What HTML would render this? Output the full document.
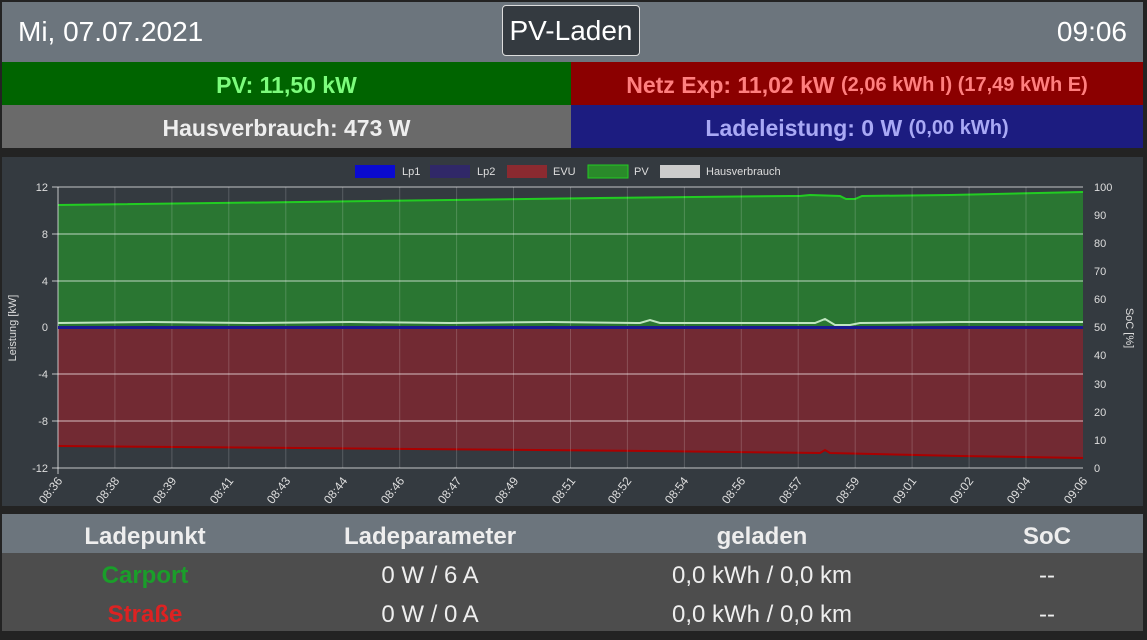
<!DOCTYPE html>
<html><head><meta charset="utf-8"><style>
body{margin:0;width:1147px;height:640px;background:#232323;font-family:"Liberation Sans",sans-serif;overflow:hidden;position:relative}
.a{position:absolute}
.t{display:flex;align-items:center;justify-content:center;font-weight:bold;font-size:23px;padding-top:4px;box-sizing:border-box}
</style></head><body>
<div class="a" style="left:2px;top:2px;width:1141px;height:60px;background:#6c757d"></div>
<div class="a" style="left:18px;top:16px;font-size:28px;color:#fff">Mi, 07.07.2021</div>
<div class="a" style="left:502px;top:5px;width:138px;height:51px;background:#343a40;border:1px solid #ddd;border-radius:4px;box-sizing:border-box;color:#fff;font-size:28px;display:flex;align-items:center;justify-content:center">PV-Laden</div>
<div class="a" style="right:20px;top:16px;font-size:28px;color:#fff">09:06</div>
<div class="a t" style="left:2px;top:62px;width:569px;height:43px;background:#006400;color:#7cfc7c">PV: 11,50 kW</div>
<div class="a t" style="left:571px;top:62px;width:572px;height:43px;background:#8b0000;color:#ff7f7f">Netz Exp: 11,02 kW&nbsp;<span style="font-size:20px">(2,06 kWh I) (17,49 kWh E)</span></div>
<div class="a t" style="left:2px;top:105px;width:569px;height:43px;background:#6a6a6a;color:#eee">Hausverbrauch: 473 W</div>
<div class="a t" style="left:571px;top:105px;width:572px;height:43px;background:#1c1c80;color:#a9a9f5">Ladeleistung: 0 W&nbsp;<span style="font-size:20px">(0,00 kWh)</span></div>
<svg class="a" style="left:2px;top:157px" width="1141" height="349">
<rect width="1141" height="349" fill="#343a40"/>
<g transform="translate(-2,-157)" font-family="Liberation Sans" font-size="11" fill="#ddd">
<rect x="355" y="165" width="40" height="13" fill="#0a0ad0"/><text x="402" y="175">Lp1</text>
<rect x="430" y="165" width="40" height="13" fill="#302868"/><text x="477" y="175">Lp2</text>
<rect x="507" y="165" width="40" height="13" fill="#8b2a30"/><text x="553" y="175">EVU</text>
<rect x="588" y="165" width="40" height="13" fill="#2a8a2a" stroke="#2c2" /><text x="634" y="175">PV</text>
<rect x="660" y="165" width="40" height="13" fill="#ccc"/><text x="706" y="175">Hausverbrauch</text>
<path d="M58,205 L300,202 L600,198 L790,196 L800,196 L810,195 L840,196 L846,199 L855,199 L862,196 L950,195 L1083,192 L1083,327 L58,327Z" fill="#2a7632"/>
<path d="M58,205 L300,202 L600,198 L790,196 L800,196 L810,195 L840,196 L846,199 L855,199 L862,196 L950,195 L1083,192" fill="none" stroke="#2c2" stroke-width="2"/>
<path d="M58,328 L1083,328 L1083,458 L960,456 L830,453 L825,450 L820,453 L650,451 L300,448 L58,446Z" fill="#722a33"/>
<path d="M1083,458 L960,456 L830,453 L825,450 L820,453 L650,451 L300,448 L58,446" fill="none" stroke="#a00" stroke-width="2"/>
<g stroke="rgba(255,255,255,0.18)" stroke-width="1">
<line x1="114.9" y1="187" x2="114.9" y2="468"/><line x1="171.9" y1="187" x2="171.9" y2="468"/><line x1="228.8" y1="187" x2="228.8" y2="468"/><line x1="285.8" y1="187" x2="285.8" y2="468"/><line x1="342.7" y1="187" x2="342.7" y2="468"/><line x1="399.7" y1="187" x2="399.7" y2="468"/><line x1="456.6" y1="187" x2="456.6" y2="468"/><line x1="513.5" y1="187" x2="513.5" y2="468"/><line x1="570.5" y1="187" x2="570.5" y2="468"/><line x1="627.4" y1="187" x2="627.4" y2="468"/><line x1="684.4" y1="187" x2="684.4" y2="468"/><line x1="741.3" y1="187" x2="741.3" y2="468"/><line x1="798.2" y1="187" x2="798.2" y2="468"/><line x1="855.2" y1="187" x2="855.2" y2="468"/><line x1="912.1" y1="187" x2="912.1" y2="468"/><line x1="969.1" y1="187" x2="969.1" y2="468"/><line x1="1026" y1="187" x2="1026" y2="468"/>
</g>
<g stroke="rgba(255,255,255,0.7)" stroke-width="1">
<line x1="52" y1="187" x2="1083" y2="187"/><line x1="52" y1="234" x2="1083" y2="234"/><line x1="52" y1="281" x2="1083" y2="281"/><line x1="52" y1="374" x2="1083" y2="374"/><line x1="52" y1="421" x2="1083" y2="421"/><line x1="52" y1="468" x2="1083" y2="468"/>
<line x1="58" y1="187" x2="58" y2="474"/>
</g>
<rect x="58" y="326" width="1025" height="3" fill="#1a1a90"/>
<path d="M58,323 L150,322 L250,323 L350,322 L450,323 L550,322 L640,323 L650,320 L660,323 L760,323 L815,323 L825,319 L835,325 L850,325 L860,323 L960,322 L1083,322" fill="none" stroke="#bfe6bf" stroke-width="2"/>
<g text-anchor="end" font-size="11"><text x="48" y="191">12</text><text x="48" y="238">8</text><text x="48" y="285">4</text><text x="48" y="331">0</text><text x="48" y="378">-4</text><text x="48" y="425">-8</text><text x="48" y="472">-12</text></g>
<g font-size="11"><text x="1094" y="191">100</text><text x="1094" y="219">90</text><text x="1094" y="247">80</text><text x="1094" y="275">70</text><text x="1094" y="303">60</text><text x="1094" y="331">50</text><text x="1094" y="359">40</text><text x="1094" y="388">30</text><text x="1094" y="416">20</text><text x="1094" y="444">10</text><text x="1094" y="472">0</text></g>
<text transform="translate(16,328) rotate(-90)" text-anchor="middle" font-size="11">Leistung [kW]</text>
<text transform="translate(1126,328) rotate(90)" text-anchor="middle" font-size="11">SoC [%]</text>
<g font-size="12" text-anchor="end">
<text transform="translate(63,481) rotate(-52)">08:36</text><text transform="translate(120,481) rotate(-52)">08:38</text><text transform="translate(177,481) rotate(-52)">08:39</text><text transform="translate(234,481) rotate(-52)">08:41</text><text transform="translate(291,481) rotate(-52)">08:43</text><text transform="translate(348,481) rotate(-52)">08:44</text><text transform="translate(405,481) rotate(-52)">08:46</text><text transform="translate(462,481) rotate(-52)">08:47</text><text transform="translate(519,481) rotate(-52)">08:49</text><text transform="translate(576,481) rotate(-52)">08:51</text><text transform="translate(632,481) rotate(-52)">08:52</text><text transform="translate(689,481) rotate(-52)">08:54</text><text transform="translate(746,481) rotate(-52)">08:56</text><text transform="translate(803,481) rotate(-52)">08:57</text><text transform="translate(860,481) rotate(-52)">08:59</text><text transform="translate(917,481) rotate(-52)">09:01</text><text transform="translate(974,481) rotate(-52)">09:02</text><text transform="translate(1031,481) rotate(-52)">09:04</text><text transform="translate(1088,481) rotate(-52)">09:06</text>
</g>
</g></svg>
<div class="a" style="left:2px;top:514px;width:1141px;height:39px;background:#6c757d"></div>
<div class="a" style="left:2px;top:553px;width:1141px;height:78px;background:#4d4d4d"></div>
<div class="a" style="left:2px;top:517px;width:1141px;font-size:24px;color:#eee">
<div style="display:flex;height:39px;align-items:center;font-weight:bold"><div style="position:absolute;left:43px;width:200px;text-align:center">Ladepunkt</div><div style="position:absolute;left:328px;width:200px;text-align:center">Ladeparameter</div><div style="position:absolute;left:610px;width:300px;text-align:center">geladen</div><div style="position:absolute;left:945px;width:200px;text-align:center">SoC</div></div>
<div style="position:relative;height:39px;display:flex;align-items:center"><div style="position:absolute;left:43px;width:200px;text-align:center;font-weight:bold;color:#1a9e2a">Carport</div><div style="position:absolute;left:328px;width:200px;text-align:center">0 W / 6 A</div><div style="position:absolute;left:610px;width:300px;text-align:center">0,0 kWh / 0,0 km</div><div style="position:absolute;left:945px;width:200px;text-align:center">--</div></div>
<div style="position:relative;height:39px;display:flex;align-items:center"><div style="position:absolute;left:43px;width:200px;text-align:center;font-weight:bold;color:#d22">Straße</div><div style="position:absolute;left:328px;width:200px;text-align:center">0 W / 0 A</div><div style="position:absolute;left:610px;width:300px;text-align:center">0,0 kWh / 0,0 km</div><div style="position:absolute;left:945px;width:200px;text-align:center">--</div></div>
</div>
</body></html>
